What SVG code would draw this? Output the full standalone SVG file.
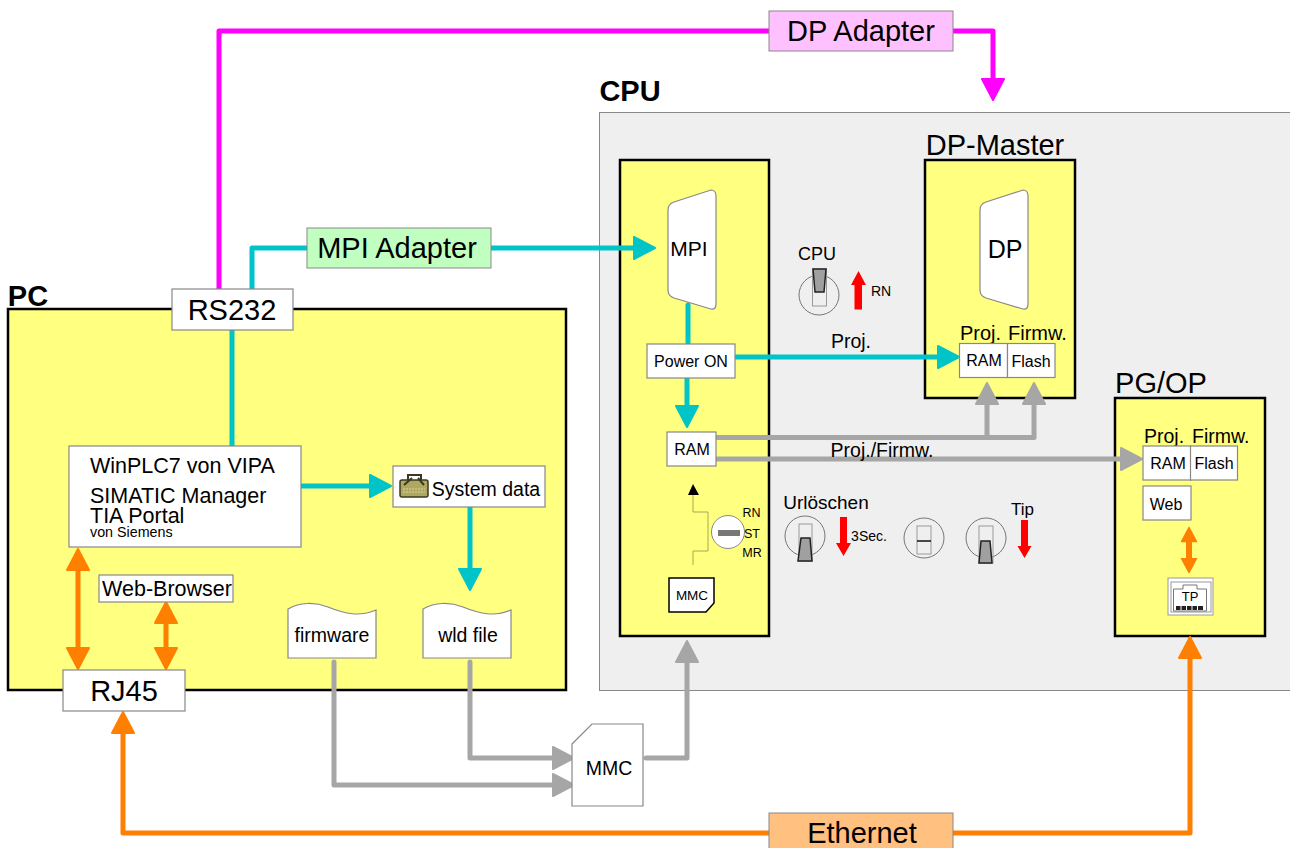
<svg xmlns="http://www.w3.org/2000/svg" width="1290" height="848" viewBox="0 0 1290 848">
<style>
text{font-family:"Liberation Sans",Arial,sans-serif;fill:#000;text-anchor:middle}
.s{text-anchor:start}
.y{fill:#ffff80;stroke:#000;stroke-width:2.5}
.w{fill:#fff;stroke:#888;stroke-width:1.2}
.c{fill:none;stroke-width:5;stroke-linejoin:round;stroke-linecap:round}
.cy{stroke:#00c4c8}.gr{stroke:#a6a6a6}.or{stroke:#ff7f00}.mg{stroke:#ff00ff}
.k{fill:#a0a0a0;stroke:#222;stroke-width:1.5}
.dial{fill:none;stroke:#777;stroke-width:1}
.sl{fill:none;stroke:#999;stroke-width:1}
.t{font-size:16px}
</style>
<defs>
<marker id="acy" markerUnits="userSpaceOnUse" markerWidth="30" markerHeight="30" refX="16" refY="13" orient="auto-start-reverse"><path d="M2 2L23 13L2 24Z" fill="#00c4c8" stroke="#00c4c8" stroke-width="2" stroke-linejoin="round"/></marker>
<marker id="agr" markerUnits="userSpaceOnUse" markerWidth="30" markerHeight="30" refX="16" refY="13" orient="auto-start-reverse"><path d="M2 2L23 13L2 24Z" fill="#a6a6a6" stroke="#a6a6a6" stroke-width="2" stroke-linejoin="round"/></marker>
<marker id="aor" markerUnits="userSpaceOnUse" markerWidth="30" markerHeight="30" refX="16" refY="13" orient="auto-start-reverse"><path d="M2 2L23 13L2 24Z" fill="#ff7f00" stroke="#ff7f00" stroke-width="2" stroke-linejoin="round"/></marker>
<marker id="amg" markerUnits="userSpaceOnUse" markerWidth="30" markerHeight="30" refX="16" refY="13" orient="auto-start-reverse"><path d="M2 2L23 13L2 24Z" fill="#ff00ff" stroke="#ff00ff" stroke-width="2" stroke-linejoin="round"/></marker>
<marker id="aos" markerUnits="userSpaceOnUse" markerWidth="20" markerHeight="20" refX="8" refY="9" orient="auto-start-reverse"><path d="M1 1.500L15 9L1 16.500Z" fill="#ff7f00" stroke="#ff7f00" stroke-width="1.500" stroke-linejoin="round"/></marker>
</defs>

<g id="cpu-panel"><rect x="599.500" y="112.500" width="700" height="578" fill="#efefef" stroke="#888" stroke-width="1"/><text x="630" y="101" style="font-size:29px;font-weight:bold">CPU</text></g>
<g id="pc"><rect class="y" x="8" y="309" width="558" height="381"/><text x="28" y="306" style="font-size:29px;font-weight:bold">PC</text></g>
<g id="cpu-module"><rect class="y" x="620" y="160" width="149" height="476"/></g>
<g id="dp-master"><rect class="y" x="925" y="160" width="150" height="238"/><text x="995" y="155" style="font-size:29px">DP-Master</text></g>
<g id="pg-op"><rect class="y" x="1115" y="398" width="150" height="238"/><text x="1161" y="393" style="font-size:29px">PG/OP</text></g>

<g id="connectors">
<path class="c mg" d="M219 290V31H769"/>
<path class="c mg" d="M953 31H993V93" marker-end="url(#amg)"/>
<path class="c cy" d="M252 290V248H307"/>
<path class="c cy" d="M491 248H648" marker-end="url(#acy)"/>
<path class="c cy" d="M232 330V446"/>
<path class="c cy" d="M688 305V345"/>
<path class="c cy" d="M736 357H952" marker-end="url(#acy)"/>
<path class="c cy" d="M687 378V420" marker-end="url(#acy)"/>
<path class="c cy" d="M301 486H384" marker-end="url(#acy)"/>
<path class="c cy" d="M470 507V583" marker-end="url(#acy)"/>
<path class="c gr" d="M716 437.500H1034V390" marker-end="url(#agr)"/>
<path class="c gr" d="M987 437.500V390" marker-end="url(#agr)"/>
<path class="c gr" d="M716 459H1135" marker-end="url(#agr)"/>
<path class="c gr" d="M470 662V758H567" marker-end="url(#agr)"/>
<path class="c gr" d="M334 662V785H567" marker-end="url(#agr)"/>
<path class="c gr" d="M646 758H687V648" marker-end="url(#agr)"/>
<path class="c or" d="M78 556V662" marker-start="url(#aor)" marker-end="url(#aor)"/>
<path class="c or" d="M166 609V662" marker-start="url(#aor)" marker-end="url(#aor)"/>
<path class="c or" d="M1189 534.500V565.500" style="stroke-width:6" marker-start="url(#aos)" marker-end="url(#aos)"/>
<path class="c or" d="M769 833H123V719" marker-end="url(#aor)"/>
<path class="c or" d="M953 833H1190V644" marker-end="url(#aor)"/>
<path d="M693 565V551H708V512H693V494" fill="none" stroke="#a8a850" stroke-width="1"/>
<path d="M693 484L688 495H699Z" fill="#000"/>
</g>

<g id="dp-adapter"><rect x="769" y="11" width="184" height="40" fill="#ffc0ff" stroke="#888" stroke-width="1"/><text x="861" y="41" style="font-size:29px">DP Adapter</text></g>
<g id="mpi-adapter"><rect x="307" y="228" width="184" height="40" fill="#c0ffc0" stroke="#888" stroke-width="1"/><text x="397" y="258" style="font-size:29px">MPI Adapter</text></g>
<g id="ethernet"><rect x="769" y="813" width="184" height="40" fill="#ffc080" stroke="#888" stroke-width="1"/><text x="862" y="843" style="font-size:29px">Ethernet</text></g>
<g id="rs232"><rect class="w" x="172" y="289" width="121" height="41"/><text x="232" y="320" style="font-size:29px">RS232</text></g>
<g id="rj45"><rect class="w" x="63" y="670" width="122" height="41"/><text x="124" y="701" style="font-size:29px">RJ45</text></g>

<g id="winplc"><rect class="w" x="69" y="446" width="232" height="101"/>
<text class="s" x="90" y="473" style="font-size:21.500px">WinPLC7 von VIPA</text>
<text class="s" x="90" y="503" style="font-size:21.500px">SIMATIC Manager</text>
<text class="s" x="90" y="523" style="font-size:21.500px">TIA Portal</text>
<text class="s" x="90" y="537" style="font-size:14.300px">von Siemens</text></g>
<g id="web-browser"><rect class="w" x="99" y="575" width="134" height="27"/><text x="167" y="596" style="font-size:21.500px">Web-Browser</text></g>
<g id="system-data"><rect class="w" x="393" y="466" width="152" height="41"/>
<rect x="400" y="480" width="28" height="17" rx="2" fill="#b0a860" stroke="#3a3a20" stroke-width="1.500"/><path d="M408 480V475H421V480M404 485L412 478M418 478L424 485" fill="none" stroke="#3a3a20" stroke-width="2"/><path d="M403 489H425M403 492H425" stroke="#d8d4a0" stroke-width="1" stroke-dasharray="2 1"/>
<text x="486" y="496" style="font-size:19.500px">System data</text></g>
<g id="firmware"><path class="w" d="M288 609C300 602 315 602 328 607C345 614 360 617 376 610V658H288Z"/><text x="332" y="642" style="font-size:19.500px">firmware</text></g>
<g id="wld-file"><path class="w" d="M423 609C435 602 450 602 463 607C480 614 495 617 511 610V658H423Z"/><text x="468" y="642" style="font-size:19.500px">wld file</text></g>
<g id="mmc"><path class="w" d="M572 744L592 724H643V806H572Z"/><text x="609" y="775" style="font-size:19.500px">MMC</text></g>

<g id="mpi"><path class="w" d="M668 210Q668 204 674 202L711 190Q716 190 716 196V304Q716 310 711 309L674 298Q668 296 668 290Z"/><text x="689" y="256" style="font-size:21px">MPI</text></g>
<g id="power-on"><rect class="w" x="647" y="344" width="88" height="34"/><text x="691" y="367" class="t">Power ON</text></g>
<g id="ram-cpu"><rect class="w" x="667" y="432" width="49" height="34"/><text x="692" y="455" class="t">RAM</text></g>
<g id="mode-switch"><circle cx="728" cy="532" r="16.500" fill="#fff" stroke="#888" stroke-width="1"/><rect x="718" y="530" width="22" height="6" fill="#777"/>
<text x="751.500" y="517" style="font-size:12.500px">RN</text><text x="752" y="538" style="font-size:12.500px">ST</text><text x="752" y="557" style="font-size:12.500px">MR</text></g>
<g id="mmc-small"><path d="M669 578H714V603L706 612H669Z" fill="#fff" stroke="#000" stroke-width="1.500"/><text x="692" y="600" style="font-size:13.500px">MMC</text></g>

<g id="dp"><path class="w" d="M980 210Q980 204 986 202L1023 190Q1028 190 1028 196V304Q1028 310 1023 309L986 298Q980 296 980 290Z"/><text x="1005" y="258" style="font-size:25px">DP</text></g>
<g id="dp-mem"><text class="s" x="960" y="340" style="font-size:20px">Proj.</text><text class="s" x="1008" y="340" style="font-size:20px">Firmw.</text>
<rect class="w" x="959.500" y="343.500" width="48" height="34"/><rect class="w" x="1007.500" y="343.500" width="47.500" height="34"/>
<text x="984" y="366" class="t">RAM</text><text x="1031" y="367" class="t">Flash</text></g>
<g id="pg-mem"><text class="s" x="1144" y="443" style="font-size:19.500px">Proj.</text><text class="s" x="1192" y="443" style="font-size:19.500px">Firmw.</text>
<rect class="w" x="1143" y="446" width="48" height="34"/><rect class="w" x="1190.500" y="446" width="47" height="34"/>
<text x="1168" y="469" class="t">RAM</text><text x="1214" y="469" class="t">Flash</text>
<rect class="w" x="1143" y="486" width="48" height="34"/><text x="1166" y="510" class="t">Web</text></g>
<g id="tp"><rect x="1168" y="578" width="45" height="37" fill="#fff" stroke="#999" stroke-width="1"/><rect x="1171" y="582" width="40" height="30" fill="none" stroke="#999" stroke-width="1"/>
<path d="M1173.500 611V589H1183V585H1197V589H1206.500V611Z" fill="#fff" stroke="#777" stroke-width="1"/>
<rect x="1176" y="606" width="27" height="4" fill="#222"/><path d="M1181 606V610M1186.500 606V610M1192 606V610M1197.500 606V610" stroke="#fff" stroke-width="1"/>
<text x="1190" y="601" style="font-size:13px">TP</text></g>

<g id="switch-cpu"><text x="817" y="260" style="font-size:18px">CPU</text><circle class="dial" cx="819" cy="295" r="20"/><rect class="sl" x="812.500" y="269" width="14" height="37"/><path class="k" d="M813 269H826L824 292H815Z"/>
<path d="M854.500 309.500H862V285H866L858.500 271L851 285H854.500Z" fill="#f00"/><text x="881" y="296" style="font-size:14px">RN</text></g>
<g id="switch-urloeschen"><text x="826" y="509" style="font-size:19px">Urlöschen</text><circle class="dial" cx="805" cy="536" r="20"/><rect class="sl" x="799" y="524" width="13" height="37"/><path class="k" d="M801 538H810L812 561H798Z"/>
<path d="M840 517H847V543H851L843.500 556L836 543H840Z" fill="#f00"/><text x="869" y="541" style="font-size:14px">3Sec.</text></g>
<g id="switch-mid"><circle class="dial" cx="924" cy="538" r="20"/><rect class="sl" x="917" y="526" width="14" height="28"/><path d="M917 541H931" stroke="#111" stroke-width="1.500"/></g>
<g id="switch-tip"><text x="1022.500" y="515" style="font-size:17px">Tip</text><circle class="dial" cx="986" cy="538" r="20"/><rect class="sl" x="979" y="526" width="14" height="37"/><path class="k" d="M981 541H990L992 563H979Z"/>
<path d="M1021 520H1028V546H1031.500L1024.500 558L1017.500 546H1021Z" fill="#f00"/></g>

<g id="labels"><text x="851" y="348" style="font-size:19.500px">Proj.</text><text x="882" y="457" style="font-size:19.500px">Proj./Firmw.</text></g>
</svg>
